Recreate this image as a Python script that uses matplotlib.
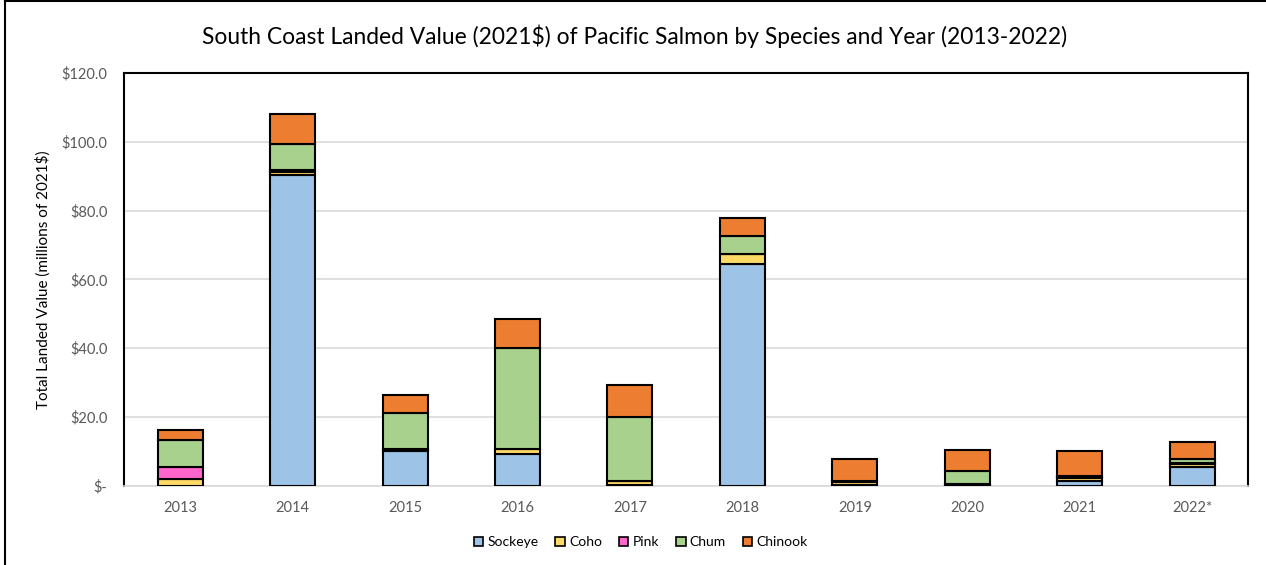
import numpy as np
import matplotlib
matplotlib.use("Agg")
import matplotlib.pyplot as plt
from matplotlib.lines import Line2D

plt.rcParams['font.family'] = ['Lato', 'DejaVu Sans']

years = ['2013', '2014', '2015', '2016', '2017', '2018', '2019', '2020', '2021', '2022*']
species = ['Sockeye', 'Coho', 'Pink', 'Chum', 'Chinook']
sockeye = [0.1, 90.4, 10.2, 9.2, 0.4, 64.4, 0.2, 0.3, 1.4, 5.5]
coho = [2.0, 0.9, 0.3, 1.5, 1.0, 3.0, 1.0, 0.3, 0.8, 0.8]
pink = [3.5, 0.6, 0.2, 0.0, 0.0, 0.0, 0.1, 0.0, 0.3, 0.3]
chum = [7.6, 7.5, 10.6, 29.3, 18.5, 5.3, 0.2, 3.8, 0.5, 1.3]
chinook = [2.9, 8.7, 5.1, 8.5, 9.5, 5.2, 6.3, 6.0, 7.1, 4.8]
colors = ['#9DC3E6', '#FFD966', '#FF66CC', '#A9D18E', '#ED7D31']

series = [sockeye, coho, pink, chum, chinook]

fig = plt.figure(figsize=(12.66, 5.65), dpi=100)
ax = fig.add_axes([0.098, 0.140, 0.888, 0.731])

x = np.arange(len(years))
bottom = np.zeros(len(years))
for vals, col in zip(series, colors):
    vals = np.array(vals)
    ax.bar(x, vals, width=0.4, bottom=bottom, color=col, edgecolor='black',
           linewidth=1.5, zorder=3)
    bottom += vals

ax.set_xlim(-0.5, len(years) - 0.5)
ax.set_ylim(0, 120)
ax.set_yticks(np.arange(0, 121, 20))
ax.set_yticklabels(['$-'] + ['$%.1f' % v for v in np.arange(20, 121, 20)])
ax.set_xticks(x)
ax.set_xticklabels(years)
ax.tick_params(axis='both', length=0, colors='#595959', labelsize=10.5)
ax.tick_params(axis='x', pad=11)
ax.tick_params(axis='y', pad=12)
ax.grid(axis='y', color='#d9d9d9', linewidth=1.2, zorder=0)

for s in ['top', 'right', 'left']:
    ax.spines[s].set_color('black')
    ax.spines[s].set_linewidth(1.5)
ax.spines['bottom'].set_color('#d9d9d9')
ax.spines['bottom'].set_linewidth(1.2)

ax.set_ylabel('Total Landed Value (millions of 2021$)', fontsize=11, color='black', labelpad=8)
fig.text(0.501, 0.935, 'South Coast Landed Value (2021$) of Pacific Salmon by Species and Year (2013-2022)',
         ha='center', va='center', fontsize=16.4)

handles = [plt.Rectangle((0, 0), 1, 1, facecolor=c, edgecolor='black', linewidth=1.2) for c in colors]
fig.legend(handles, species, loc='center', bbox_to_anchor=(0.506, 0.04), ncol=5, frameon=False,
           fontsize=10, handlelength=0.7, handleheight=0.7, handletextpad=0.3, columnspacing=1.2)

# outer border of the chart object
fig.add_artist(Line2D([5 / 1266, 5 / 1266], [0, 1], color='black', linewidth=1.5))
fig.add_artist(Line2D([5 / 1266, 1], [1 - 1 / 565, 1 - 1 / 565], color='black', linewidth=1.5))

fig.savefig('out.png', dpi=100)
